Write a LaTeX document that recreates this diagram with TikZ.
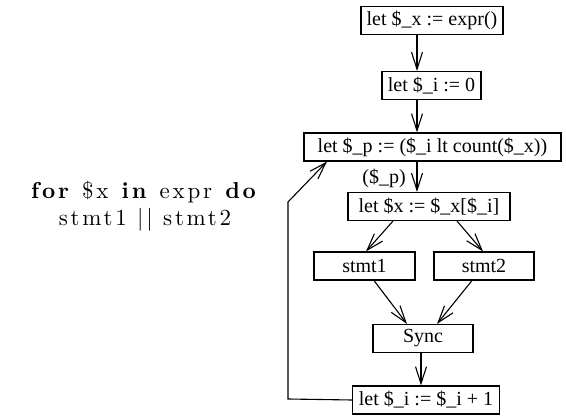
\documentclass[tikz,border=0pt]{standalone}
\usepackage{fontspec}
\newfontfamily\boxfont{Liberation Serif}
\newfontfamily\srcfont{lmroman10-regular.otf}[BoldFont=lmroman10-bold.otf,LetterSpace=12]
\usetikzlibrary{arrows.meta}
\begin{document}
\begin{tikzpicture}[x=1pt,y=-1pt,
  stmtbox/.style={draw,line width=1.1pt,font=\boxfont\fontsize{20}{24}\selectfont,
    minimum height=28pt,inner xsep=3pt,inner ysep=0pt},
  flow/.style={draw,line width=1.1pt,-{Straight Barb[length=17pt,width=11pt,line width=1.1pt]}},
  lbl/.style={font=\boxfont\fontsize{20}{24}\selectfont,inner sep=0pt}]
\useasboundingbox (0,0) rectangle (566,420);
\node[stmtbox,minimum width=142pt] (xa) at (432,20.5) {let \$\_x := expr()};
\node[stmtbox,minimum width=99pt] (ib) at (431.5,85.5) {let \$\_i := 0};
\node[stmtbox,minimum width=257pt] (pb) at (432.5,147) {let \$\_p := (\$\_i lt count(\$\_x))};
\node[stmtbox,minimum width=162pt] (xb) at (429,206.5) {let \$x := \$\_x[\$\_i]};
\node[stmtbox,minimum width=101pt] (s1) at (364.5,266) {stmt1};
\node[stmtbox,minimum width=100pt] (s2) at (484,266) {stmt2};
\node[stmtbox,minimum width=100pt] (sy) at (423,338.5) {Sync};
\node[stmtbox,minimum width=147pt] (lb) at (426,400) {let \$\_i := \$\_i + 1};
\node[lbl] (pl) at (384,178) {(\$\_p)};
\node[align=center,inner sep=0pt,font=\srcfont\fontsize{23}{27}\selectfont] (src) at (145,206)
  {\textbf{for} \$x \textbf{in} expr \textbf{do}\\ stmt1 || stmt2};
\coordinate (c1) at (288,399);
\coordinate (c2) at (288,202);
\draw[flow] ([xshift=-15pt]xa.south) -- ([xshift=-14.5pt]ib.north);
\draw[flow] ([xshift=-14.5pt]ib.south) -- ([xshift=-15.5pt]pb.north);
\draw[flow] ([xshift=-15.5pt]pb.south) -- ([xshift=-12pt]xb.north);
\draw[flow] ([xshift=-36pt]xb.south) -- ([xshift=1.5pt]s1.north);
\draw[flow] ([xshift=28pt]xb.south) -- ([xshift=-1pt]s2.north);
\draw[flow] ([xshift=9.5pt]s1.south) -- ([xshift=-16pt]sy.north);
\draw[flow] ([xshift=-12pt]s2.south) -- ([xshift=14pt]sy.north);
\draw[flow] ([xshift=-2pt]sy.south) -- ([xshift=-5pt]lb.north);
\draw[flow] (lb.west) -- (c1) -- (c2) -- ([xshift=-105.5pt]pb.south);
\end{tikzpicture}
\end{document}
